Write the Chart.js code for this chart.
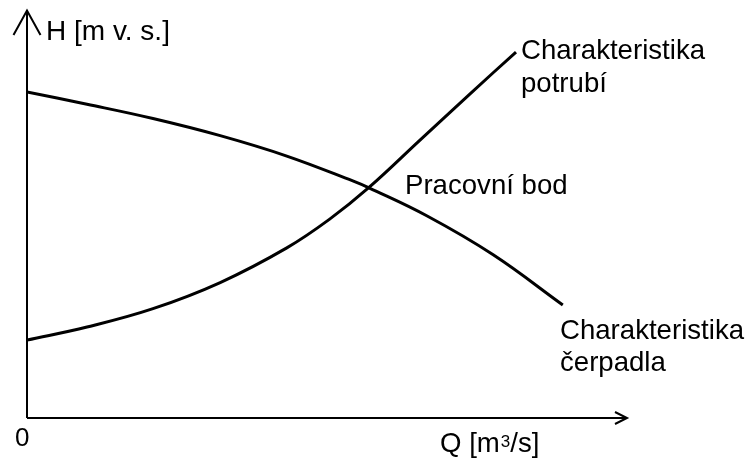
<!DOCTYPE html>
<html>
<head>
<meta charset="utf-8">
<script src="https://cdn.jsdelivr.net/npm/chart.js@4/dist/chart.umd.min.js"></script>
<style>
html,body{margin:0;padding:0;background:#fff;}
#wrap{position:relative;width:749px;height:459px;}
</style>
</head>
<body>
<div id="wrap"><canvas id="c" width="749" height="459"></canvas></div>
<script>
// Pump characteristic (Charakteristika čerpadla)
const qPump = [0, 10, 21, 32.2, 43.3, 54.3, 57, 66.7, 77.7, 89.3];
const hPump = [79.9, 76.9, 73.4, 69.2, 64.2, 58.1, 56.4, 49.5, 40.0, 27.7];
// Pipe characteristic (Charakteristika potrubí)
const qPipe = [0, 10, 21, 32.2, 43.3, 50.5, 57, 65.5, 73.8, 81.5];
const hPipe = [19.1, 22.3, 26.8, 33.2, 41.7, 48.8, 56.5, 68.1, 79.4, 89.7];

const yAxisLabel = "H [m v. s.]";
const xAxisLabelParts = ["Q [m", "3", "/s]"];
const originLabel = "0";
const pipeLabel = ["Charakteristika", "potrubí"];
const pumpLabel = ["Charakteristika", "čerpadla"];
const pointLabel = "Pracovní bod";

const FONT = "'Liberation Sans', Arial, sans-serif";

const overlay = {
  id: 'overlay',
  afterDraw(chart) {
    const ctx = chart.ctx;
    const xs = chart.scales.x, ys = chart.scales.y;
    const x0 = xs.getPixelForValue(0), y0 = ys.getPixelForValue(0);
    const xEnd = xs.getPixelForValue(100), yEnd = ys.getPixelForValue(100);
    ctx.save();
    ctx.strokeStyle = '#000';
    ctx.lineWidth = 2;
    ctx.lineCap = 'butt';
    // axes
    ctx.beginPath();
    ctx.moveTo(x0, y0); ctx.lineTo(x0, yEnd);
    ctx.moveTo(x0, y0); ctx.lineTo(xEnd, y0);
    ctx.stroke();
    // y arrow
    ctx.lineJoin = 'miter';
    ctx.beginPath();
    ctx.moveTo(x0 - 13.5, yEnd + 25);
    ctx.lineTo(x0, yEnd + 0.5);
    ctx.lineTo(x0 + 13.5, yEnd + 25);
    ctx.stroke();
    // x arrow
    ctx.beginPath();
    ctx.moveTo(xEnd - 12, y0 - 6);
    ctx.lineTo(xEnd, y0);
    ctx.lineTo(xEnd - 12, y0 + 6);
    ctx.stroke();

    ctx.fillStyle = '#000';
    ctx.textBaseline = 'alphabetic';
    ctx.textAlign = 'left';
    ctx.font = '28px ' + FONT;
    ctx.fillText(yAxisLabel, 46, 40);
    ctx.font = '26px ' + FONT;
    ctx.fillText(originLabel, 15, 446);
    // x axis label with superscript
    let x = 440;
    ctx.font = '27.6px ' + FONT;
    ctx.fillText(xAxisLabelParts[0], x, 452);
    x += ctx.measureText(xAxisLabelParts[0]).width + 1;
    ctx.font = '17px ' + FONT;
    ctx.fillText(xAxisLabelParts[1], x, 447);
    x += ctx.measureText(xAxisLabelParts[1]).width;
    ctx.font = '27.6px ' + FONT;
    ctx.fillText(xAxisLabelParts[2], x, 452);

    ctx.font = '27.6px ' + FONT;
    ctx.fillText(pipeLabel[0], 521, 59);
    ctx.fillText(pipeLabel[1], 521, 92);
    ctx.fillText(pointLabel, 405, 194);
    ctx.fillText(pumpLabel[0], 560, 339);
    ctx.fillText(pumpLabel[1], 560, 371);
    ctx.restore();
  }
};

new Chart(document.getElementById('c'), {
  type: 'line',
  data: {
    datasets: [
      {
        label: 'Charakteristika čerpadla',
        data: qPump.map((q, i) => ({x: q, y: hPump[i]})),
        borderColor: '#000',
        borderWidth: 3,
        pointRadius: 0,
        fill: false,
        tension: 0.4
      },
      {
        label: 'Charakteristika potrubí',
        data: qPipe.map((q, i) => ({x: q, y: hPipe[i]})),
        borderColor: '#000',
        borderWidth: 3,
        pointRadius: 0,
        fill: false,
        tension: 0.4
      }
    ]
  },
  options: {
    responsive: false,
    animation: false,
    devicePixelRatio: 1,
    layout: {padding: {left: 27, right: 122, top: 10, bottom: 41}},
    plugins: {legend: {display: false}, tooltip: {enabled: false}, title: {display: false}},
    scales: {
      x: {type: 'linear', min: 0, max: 100, display: false},
      y: {type: 'linear', min: 0, max: 100, display: false}
    }
  },
  plugins: [overlay]
});
</script>
</body>
</html>
